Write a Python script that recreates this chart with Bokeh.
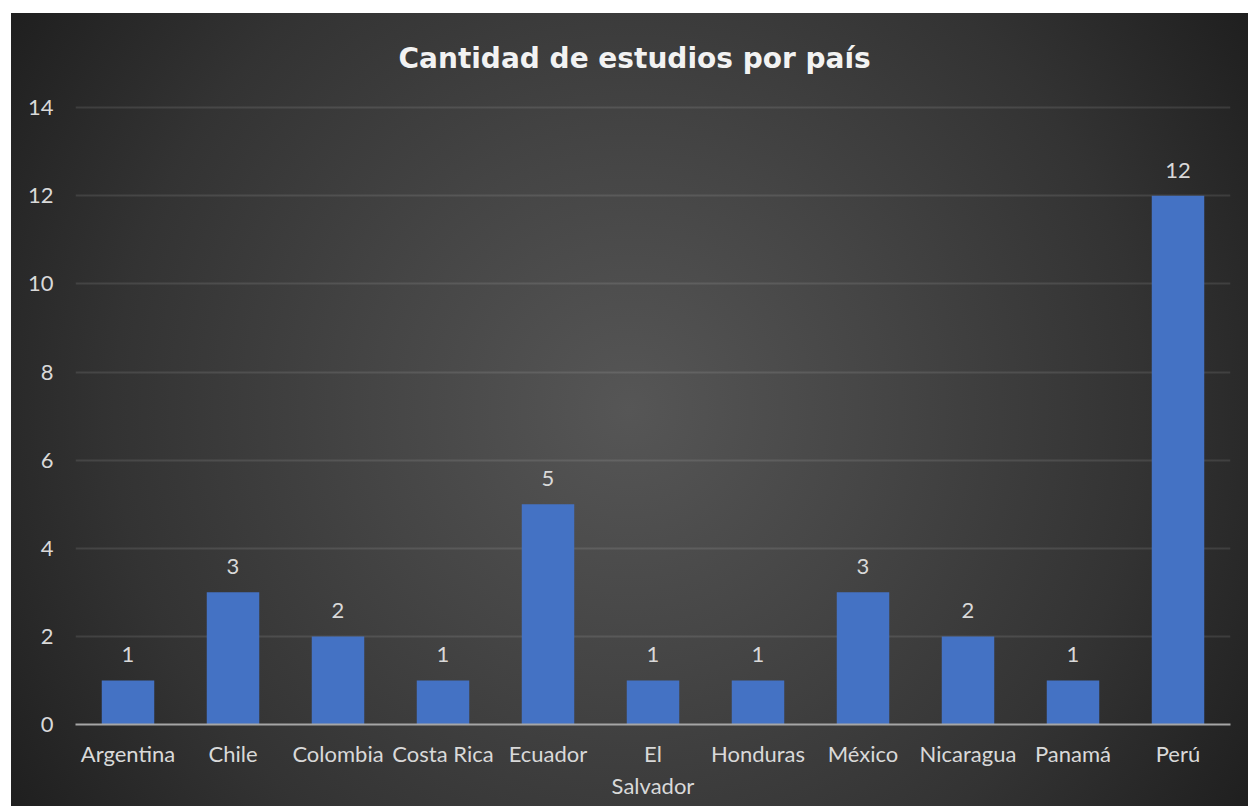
from bokeh.plotting import figure
from bokeh.models import ColumnDataSource, FixedTicker, LabelSet, Title
from bokeh.core.properties import value
from bokeh.embed import file_html
from bokeh.resources import INLINE

categories = ["Argentina", "Chile", "Colombia", "Costa Rica", "Ecuador", "El Salvador",
              "Honduras", "México", "Nicaragua", "Panamá", "Perú"]
values = [1, 3, 2, 1, 5, 1, 1, 3, 2, 1, 12]
tick_labels = ["Argentina", "Chile", "Colombia", "Costa Rica", "Ecuador", "El\nSalvador",
               "Honduras", "México", "Nicaragua", "Panamá", "Perú"]
y_ticks = [0, 2, 4, 6, 8, 10, 12, 14]
title_text = "Cantidad de estudios por país"

xs = list(range(len(categories)))
src = ColumnDataSource(dict(x=xs, top=values, label=[str(v) for v in values], cat=categories))

FONT = "Lato"
TXT = "#d9d9d9"

p = figure(width=1248, height=806, x_range=(-0.5, len(categories) - 0.5), y_range=(0, 14.05),
           output_backend="svg", toolbar_location=None,
           min_border_left=75, min_border_right=18, min_border_top=105, min_border_bottom=82)
p.border_fill_color = None
p.background_fill_color = None
p.outline_line_color = None
p.styles = {
    "background-image": "radial-gradient(circle at 50% 50%, #565656 0%, #454545 35%, #333333 70%, #1f1f1f 100%)",
    "background-position": "11px 13px",
    "background-size": "calc(100% - 11px) calc(100% - 13px)",
    "background-repeat": "no-repeat",
}

t = Title(text=title_text, align="left", offset=323, text_font="DejaVu Sans",
          text_font_style="bold", text_font_size="28px", text_color="#f2f2f2", standoff=61)
p.add_layout(t, "above")

p.vbar(x="x", top="top", width=0.5, bottom=0, source=src, fill_color="#4472C4", line_color=None)

labels = LabelSet(x="x", y="top", text="label", source=src, text_align="center",
                  text_baseline="bottom", y_offset=18, text_font=value(FONT),
                  text_font_size="22px", text_color=TXT)
p.add_layout(labels)

# x axis
p.xaxis.ticker = FixedTicker(ticks=xs)
p.xaxis.major_label_overrides = {i: lab for i, lab in zip(xs, tick_labels)}
p.xaxis.axis_line_color = "#a6a6a6"
p.xaxis.axis_line_width = 2
p.xaxis.major_tick_line_color = None
p.xaxis.minor_tick_line_color = None
p.xaxis.major_label_text_font = FONT
p.xaxis.major_label_text_font_size = "22px"
p.xaxis.major_label_text_color = TXT
p.xaxis.major_label_standoff = 9

# y axis
p.yaxis.ticker = FixedTicker(ticks=y_ticks)
p.yaxis.axis_line_color = None
p.yaxis.major_tick_line_color = None
p.yaxis.minor_tick_line_color = None
p.yaxis.major_label_text_font = FONT
p.yaxis.major_label_text_font_size = "22px"
p.yaxis.major_label_text_color = TXT
p.yaxis.major_label_standoff = 16

p.xgrid.grid_line_color = None
p.ygrid.grid_line_color = "white"
p.ygrid.grid_line_alpha = 0.1
p.ygrid.grid_line_width = 2

open("out.html", "w").write(file_html(p, INLINE))
